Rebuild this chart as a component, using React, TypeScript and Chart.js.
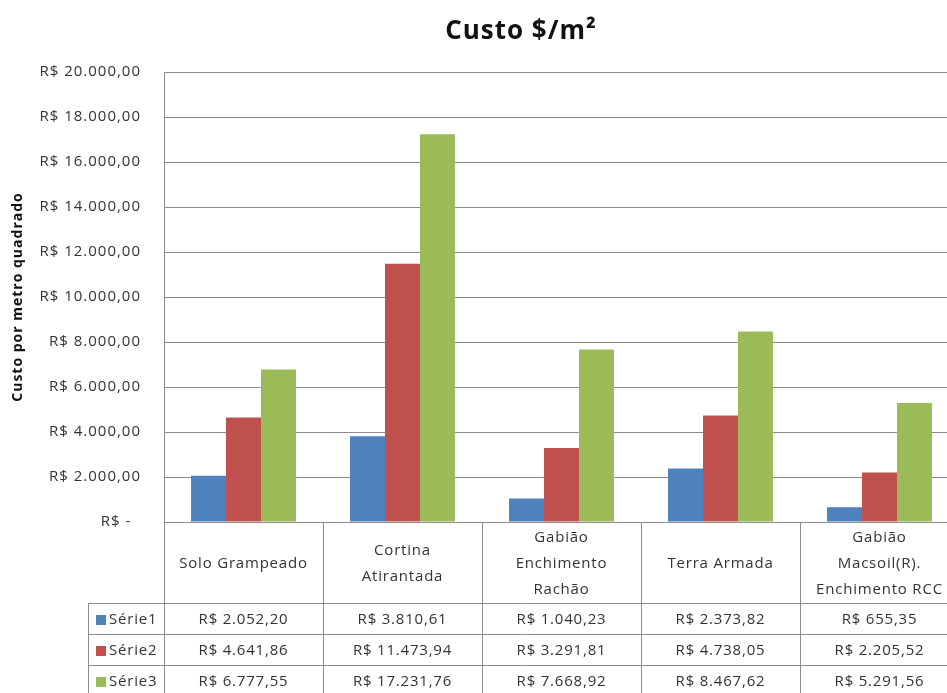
import React, { useEffect, useRef } from 'react';
import { Chart, registerables } from 'chart.js';

Chart.register(...registerables);

const chartTitle = 'Custo $/m²';
const yAxisTitle = 'Custo por metro quadrado';
const categories: string[][] = [
  ['Solo Grampeado'],
  ['Cortina', 'Atirantada'],
  ['Gabião', 'Enchimento', 'Rachão'],
  ['Terra Armada'],
  ['Gabião', 'Macsoil(R).', 'Enchimento RCC'],
];
const seriesNames = ['Série1', 'Série2', 'Série3'];
const serie1 = [2052.2, 3810.61, 1040.23, 2373.82, 655.35];
const serie2 = [4641.86, 11473.94, 3291.81, 4738.05, 2205.52];
const serie3 = [6777.55, 17231.76, 7668.92, 8467.62, 5291.56];
const seriesColors = ['#4F81BD', '#C0504D', '#9BBB59'];
const yMin = 0;
const yMax = 20000;
const yStep = 2000;

const FONT = '"Open Sans", "Noto Sans", sans-serif';
const GRID = '#8c8c8c';
const TEXT = '#333333';

function brl(v: number): string {
  const [i, d] = Math.abs(v).toFixed(2).split('.');
  const withDots = i.replace(/\B(?=(\d{3})+(?!\d))/g, '.');
  return 'R$ ' + withDots + ',' + d;
}

function tickLabel(v: number): string {
  if (v === 0) return 'R$ -  ';
  return brl(v);
}

const spacingPlugin = {
  id: 'letterSpacing',
  beforeDraw(chart: any) {
    (chart.ctx as any).letterSpacing = '1px';
  },
};

const titlePlugin = {
  id: 'excelTitle',
  afterDraw(chart: any) {
    const ctx = chart.ctx as CanvasRenderingContext2D;
    ctx.save();
    (ctx as any).letterSpacing = '1px';
    ctx.font = `bold 26px ${FONT}`;
    ctx.fillStyle = '#111';
    ctx.textAlign = 'center';
    ctx.textBaseline = 'alphabetic';
    ctx.fillText(chartTitle, chart.width / 2, 39);
    ctx.restore();
  },
};

const tablePlugin = {
  id: 'dataTable',
  afterDraw(chart: any) {
    const ctx = chart.ctx as CanvasRenderingContext2D;
    const xs = chart.scales.x;
    const area = chart.chartArea;
    const n = categories.length;
    const catW = (area.right - area.left) / n;
    const headerTop = area.bottom;
    const headerH = 81;
    const rowH = 31;
    const legendLeft = 88;
    const rows = [serie1, serie2, serie3];
    const px = (v: number) => Math.round(v) + 0.5;

    ctx.save();
    ctx.strokeStyle = GRID;
    ctx.lineWidth = 1;
    for (let i = 0; i <= n; i++) {
      const xx =
        i === n
          ? px(xs.getPixelForValue(n - 1) + catW / 2)
          : px(xs.getPixelForValue(i) - catW / 2);
      ctx.beginPath();
      ctx.moveTo(xx, headerTop);
      ctx.lineTo(xx, chart.height + 5);
      ctx.stroke();
    }
    ctx.beginPath();
    ctx.moveTo(px(legendLeft), headerTop + headerH);
    ctx.lineTo(px(legendLeft), chart.height + 5);
    ctx.stroke();
    for (let r = 0; r <= rows.length; r++) {
      const y = px(headerTop + headerH + r * rowH);
      ctx.beginPath();
      ctx.moveTo(legendLeft, y);
      ctx.lineTo(area.right, y);
      ctx.stroke();
    }

    (ctx as any).letterSpacing = '0.8px';
    ctx.font = `15px ${FONT}`;
    ctx.fillStyle = TEXT;
    ctx.textBaseline = 'middle';
    ctx.textAlign = 'center';
    const lh = 26;
    categories.forEach((lines, i) => {
      const cx = xs.getPixelForValue(i);
      const cy = headerTop + headerH / 2 + 1;
      const start = cy - ((lines.length - 1) * lh) / 2;
      lines.forEach((ln, k) => ctx.fillText(ln, cx, start + k * lh));
    });

    rows.forEach((vals, r) => {
      const cy = headerTop + headerH + r * rowH + rowH / 2 + 1;
      ctx.textAlign = 'center';
      ctx.fillStyle = TEXT;
      vals.forEach((v, i) => ctx.fillText(brl(v), xs.getPixelForValue(i), cy));
      ctx.fillStyle = seriesColors[r];
      ctx.fillRect(legendLeft + 8, Math.round(cy - 5), 10, 10);
      ctx.fillStyle = TEXT;
      ctx.textAlign = 'left';
      ctx.fillText(seriesNames[r], legendLeft + 21, cy);
    });
    ctx.restore();
    (ctx as any).letterSpacing = '0px';
  },
};

export default function App() {
  const ref = useRef<HTMLCanvasElement | null>(null);

  useEffect(() => {
    if (!ref.current) return;
    const chart = new Chart(ref.current, {
      type: 'bar',
      data: {
        labels: categories.map((c) => c.join(' ')),
        datasets: [serie1, serie2, serie3].map((d, i) => ({
          label: seriesNames[i],
          data: d,
          backgroundColor: seriesColors[i],
          borderWidth: 0,
          categoryPercentage: 0.66,
          barPercentage: 1,
        })),
      },
      options: {
        responsive: false,
        animation: false,
        layout: { padding: { top: 72, bottom: 171, left: 0, right: 83 } },
        plugins: {
          legend: { display: false },
          tooltip: { enabled: false },
          title: { display: false },
        },
        scales: {
          x: { display: false },
          y: {
            min: yMin,
            max: yMax,
            afterFit: (s: any) => {
              s.width = 164;
            },
            ticks: {
              stepSize: yStep,
              padding: 23,
              color: TEXT,
              font: { family: FONT, size: 15 },
              callback: (v: any) => tickLabel(Number(v)),
            },
            grid: { color: GRID, drawTicks: false, lineWidth: 1 },
            border: { display: true, color: GRID },
            title: {
              display: true,
              text: yAxisTitle,
              color: '#111',
              font: { family: FONT, size: 14, weight: 'bold' },
              padding: { top: 10, bottom: 0 },
            },
          },
        },
      },
      plugins: [spacingPlugin, titlePlugin, tablePlugin],
    });
    return () => chart.destroy();
  }, []);

  return (
    <div
      style={{
        position: 'fixed',
        left: 0,
        top: 0,
        width: 947,
        height: 693,
        overflow: 'hidden',
        background: '#ffffff',
      }}
    >
      <canvas ref={ref} width={1042} height={693} />
    </div>
  );
}
